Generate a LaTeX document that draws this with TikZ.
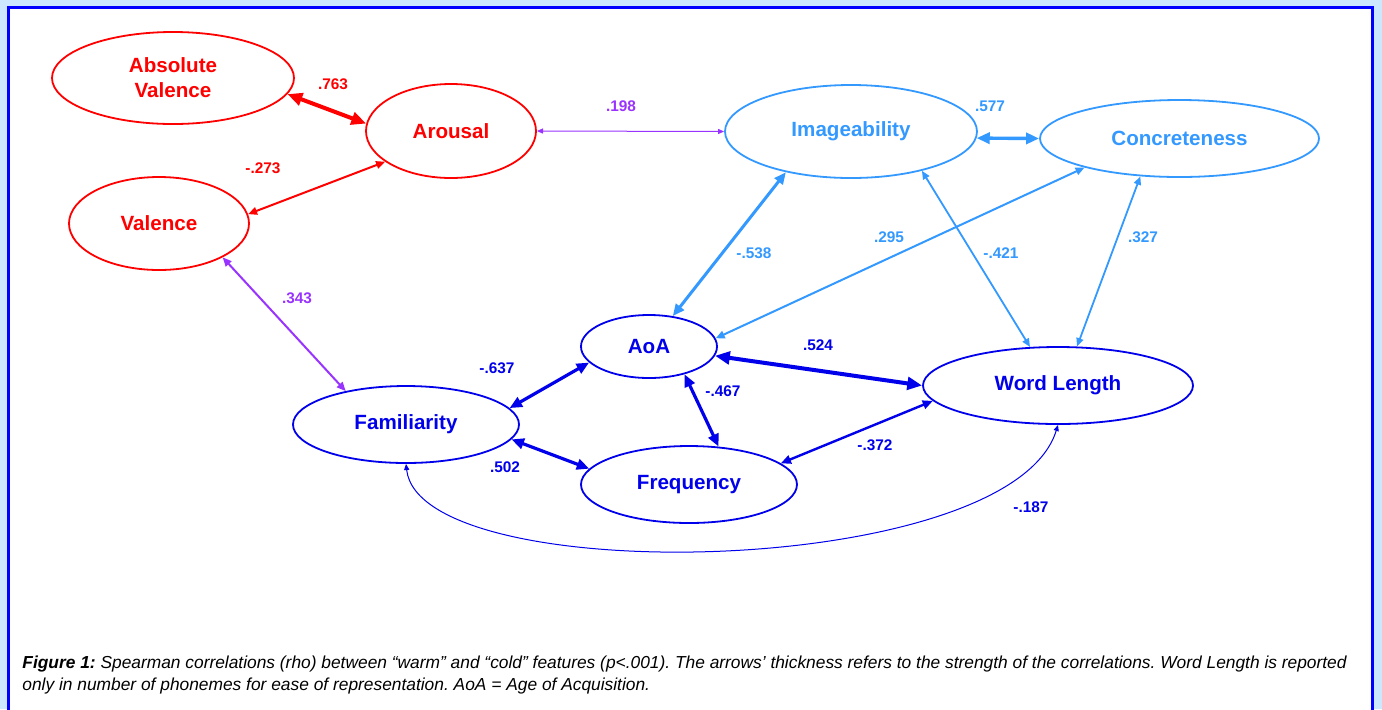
\documentclass[tikz,border=0pt]{standalone}
\usepackage{fontspec}
\setmainfont{Liberation Sans}
\usepackage{xcolor}
\usetikzlibrary{shapes,arrows.meta,positioning}

\definecolor{warm}{RGB}{255,0,0}
\definecolor{cold}{RGB}{51,153,255}
\definecolor{lexical}{RGB}{0,0,235}
\definecolor{mixed}{RGB}{153,51,255}
\definecolor{pagebg}{RGB}{204,232,255}

\begin{document}
\begin{tikzpicture}[x=0.5pt, y=-0.5pt,
    var/.style={ellipse, draw, line width=0.9pt, inner sep=0pt, align=center,
        font=\bfseries\fontsize{10.3}{12.5}\selectfont},
    corr/.style={line width=#1, <->, >={Triangle[length=1.6pt 2.9, width=1.3pt 2.5]}},
    lbl/.style={font=\bfseries\fontsize{7.7}{9}\selectfont, inner sep=0pt}]

    % Frame
    \useasboundingbox[fill=pagebg] (0,0) rectangle (1382,709);
    \filldraw[fill=white, draw=blue, line width=1.5pt] (8,7.5) rectangle (1372.5,730);

    % Warm features
    \node[var, warm, minimum width=121pt, minimum height=46pt] (absval) at (173,78) {Absolute\\Valence};
    \node[var, warm, minimum width=85pt, minimum height=47pt] (arousal) at (451,131) {Arousal};
    \node[var, warm, minimum width=90pt, minimum height=46.5pt] (valence) at (159,223.5) {Valence};

    % Cold features
    \node[var, cold, minimum width=126pt, minimum height=46.5pt] (img) at (851,131.5) {Imageability};
    \node[var, cold, minimum width=139.5pt, minimum height=38.5pt] (conc) at (1179.5,138.5) {Concreteness};

    % Lexical features
    \node[var, lexical, minimum width=68pt, minimum height=31.5pt] (aoa) at (649,346.5) {AoA};
    \node[var, lexical, minimum width=113pt, minimum height=38.5pt] (fam) at (406,424.5) {Familiarity};
    \node[var, lexical, minimum width=108pt, minimum height=38.5pt] (freq) at (689,484.5) {Frequency};
    \node[var, lexical, minimum width=135pt, minimum height=38.5pt] (wl) at (1058,385.5) {Word Length};

    % Correlations
    \draw[corr=2pt, warm] (absval.-8) -- (arousal.175);
    \draw[corr=1pt, warm] (arousal.205) -- (valence.6);
    \draw[corr=0.5pt, mixed] (arousal.0) -- (img.180);
    \draw[corr=1pt, mixed] (valence.-28) -- (fam.151);
    \draw[corr=1.7pt, cold] (img.-3) -- (conc.180);
    \draw[corr=1.5pt, cold] (img.212) -- (aoa.52);
    \draw[corr=1pt, cold] (conc.197) -- (aoa.7);
    \draw[corr=0.9pt, cold] (img.-29) -- (wl.126);
    \draw[corr=0.9pt, cold] (conc.224) -- (wl.64);
    \draw[corr=2pt, lexical] (aoa.-8) -- (wl.180);
    \draw[corr=1.6pt, lexical] (aoa.195) -- (fam.9);
    \draw[corr=1.6pt, lexical] (aoa.-38) -- (freq.52);
    \draw[corr=1.6pt, lexical] (fam.-8) -- (freq.171);
    \draw[corr=1.2pt, lexical] (freq.13) -- (wl.187);
    \draw[corr=0.5pt, lexical] (fam.south) .. controls (420,590) and (1010,580) .. (wl.south);

    % Rho values
    \node[lbl, warm] (r763) at (333,84) {.763};
    \node[lbl, warm] (r273) at (263,168) {-.273};
    \node[lbl, mixed] (r198) at (621,106) {.198};
    \node[lbl, mixed] (r343) at (297,298) {.343};
    \node[lbl, cold] (r577) at (990,106) {.577};
    \node[lbl, cold] (r538) at (754,253) {-.538};
    \node[lbl, cold] (r295) at (889,237) {.295};
    \node[lbl, cold] (r421) at (1001,253) {-.421};
    \node[lbl, cold] (r327) at (1143,237) {.327};
    \node[lbl, lexical] (r524) at (818,345) {.524};
    \node[lbl, lexical] (r637) at (497,368) {-.637};
    \node[lbl, lexical] (r467) at (723,391) {-.467};
    \node[lbl, lexical] (r502) at (505,467) {.502};
    \node[lbl, lexical] (r372) at (875,445) {-.372};
    \node[lbl, lexical] (r187) at (1031,507) {-.187};

    % Caption
    \node[anchor=north west, align=left, inner sep=0pt, font=\frenchspacing\itshape\fontsize{8.68}{11}\selectfont] (caption) at (22,656)
        {\textbf{Figure 1:} Spearman correlations (rho) between “warm” and “cold” features (p<.001). The arrows’ thickness refers to the strength of the correlations. Word Length is reported\\
         only in number of phonemes for ease of representation. AoA = Age of Acquisition.};
\end{tikzpicture}
\end{document}
